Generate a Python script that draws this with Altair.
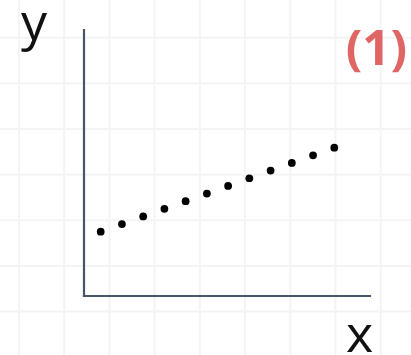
import altair as alt
import pandas as pd

# Data
x_vals = [1, 2, 3, 4, 5, 6, 7, 8, 9, 10, 11, 12]
y_vals = [1.0, 1.5, 2.0, 2.5, 3.0, 3.5, 4.0, 4.5, 5.0, 5.5, 6.0, 6.5]

# background paper grid (grid units)
grid_x = [0, 1, 2, 3, 4, 5, 6, 7, 8]
grid_y = [0, 1, 2, 3, 4, 5, 6]

pts = pd.DataFrame({"x": x_vals, "y": y_vals})

W, H = 411, 355
XD = [-3.742, 15.612]
YD = [-7.074, 16.172]
x_org, x_end = 0.214, 13.681
y_org, y_end = -3.210, 14.207

xs = alt.Scale(domain=XD, nice=False, zero=False)
ys = alt.Scale(domain=YD, nice=False, zero=False)

grid_color = "#f4f4f4"
axis_color = "#475569"

gv = alt.Chart(pd.DataFrame({"g": grid_x})).mark_rule(
    color=grid_color, strokeWidth=2
).encode(x=alt.X("g:Q", scale=alt.Scale(domain=[-0.42, 8.67], nice=False, zero=False), axis=None))

gh = alt.Chart(pd.DataFrame({"g": grid_y})).mark_rule(
    color=grid_color, strokeWidth=2
).encode(y=alt.Y("g:Q", scale=alt.Scale(domain=[-0.954, 6.83], nice=False, zero=False), axis=None))

axes_df = pd.DataFrame({
    "x": [x_org, x_org], "x2": [x_org, x_end],
    "y": [y_org, y_org], "y2": [y_end, y_org],
})
axes = alt.Chart(axes_df).mark_rule(
    color=axis_color, strokeWidth=2.2, strokeCap="square"
).encode(
    x=alt.X("x:Q", scale=xs, axis=None), x2="x2",
    y=alt.Y("y:Q", scale=ys, axis=None), y2="y2",
)

points = alt.Chart(pts).mark_circle(color="black", opacity=1, size=60).encode(
    x=alt.X("x:Q", scale=xs, axis=None),
    y=alt.Y("y:Q", scale=ys, axis=None),
)

data_layer = alt.layer(axes, points)

ylab = alt.Chart(pd.DataFrame({"t": ["y"]})).mark_text(
    font="Open Sans", fontSize=52, color="#111111", align="left", baseline="alphabetic"
).encode(text="t:N", x=alt.value(21), y=alt.value(40))

xlab = alt.Chart(pd.DataFrame({"t": ["x"]})).mark_text(
    font="Open Sans", fontSize=52, color="#111111", align="left", baseline="alphabetic"
).encode(text="t:N", x=alt.value(346), y=alt.value(352))

tag = alt.Chart(pd.DataFrame({"t": ["(1)"]})).mark_text(
    font="Open Sans", fontSize=49, fontWeight="bold", color="#e06666", align="right", baseline="alphabetic"
).encode(text="t:N", x=alt.value(407), y=alt.value(65))

chart = alt.layer(gv, gh, data_layer, ylab, xlab, tag).resolve_scale(
    x="independent", y="independent"
).properties(
    width=W, height=H, padding=0, autosize=alt.AutoSizeParams(type="none"),
    background="white",
).configure_view(stroke=None)

chart.save("out.html", embed_options={"renderer": "svg", "actions": False})
